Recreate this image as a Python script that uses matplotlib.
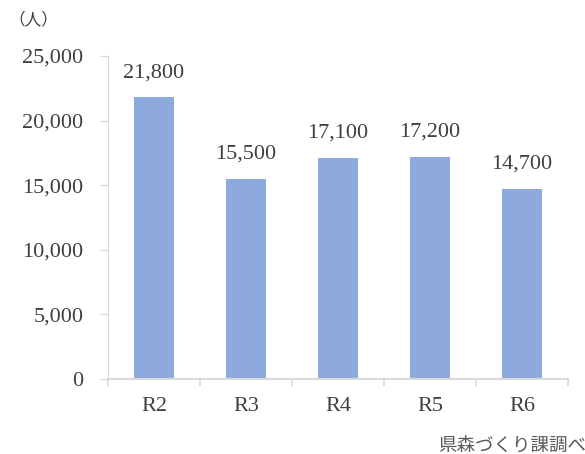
import matplotlib.pyplot as plt

categories = ["R2", "R3", "R4", "R5", "R6"]
visitors = [21800, 15500, 17100, 17200, 14700]
yticks = [0, 5000, 10000, 15000, 20000, 25000]

W, H = 585, 454
fig = plt.figure(figsize=(W / 100, H / 100), dpi=100)
# plot area in pixels: x 108..568, y 56..379
ax = fig.add_axes([108 / W, 1 - 379 / H, 460 / W, 323 / H])

text_color = "#404040"
grid_color = "#D9D9D9"
serif = ["Liberation Serif", "DejaVu Serif"]

x = range(len(categories))
ax.bar(x, visitors, width=0.44, color="#8EA9DB")
for i, v in enumerate(visitors):
    ax.text(i, v + 1900, f"{v:,}", ha="center", va="center",
            fontsize=16, color=text_color, family=serif)

ax.set_xlim(-0.5, len(categories) - 0.5)
ax.set_ylim(0, 25000)
ax.set_yticks(yticks)
ax.set_yticklabels([f"{t:,}" for t in yticks], family=serif, fontsize=16, color=text_color)
ax.set_xticks(list(x))
ax.set_xticklabels(categories, family=serif, fontsize=16, color=text_color)
ax.tick_params(axis="x", length=0, pad=13)
ax.tick_params(axis="y", length=5.8, color=grid_color, pad=12)

# category boundary ticks on the x axis
ax.set_xticks([i - 0.5 for i in range(len(categories) + 1)], minor=True)
ax.tick_params(axis="x", which="minor", length=5, color=grid_color, width=1.2)

for s in ["top", "right"]:
    ax.spines[s].set_visible(False)
ax.spines["left"].set_color(grid_color)
ax.spines["bottom"].set_color(grid_color)
ax.spines["bottom"].set_linewidth(1.5)

fig.text(8 / W, 1 - 20 / H, "（人）", family=["Noto Sans CJK JP", "DejaVu Sans"],
         fontsize=12, color=text_color, va="center", ha="left")
fig.text(438 / W, 1 - 446 / H, "県森づくり課調べ", family=["Noto Sans CJK JP", "DejaVu Sans"],
         fontsize=13.3, color="#595959", va="center", ha="left")

fig.savefig("out.png", dpi=100)
